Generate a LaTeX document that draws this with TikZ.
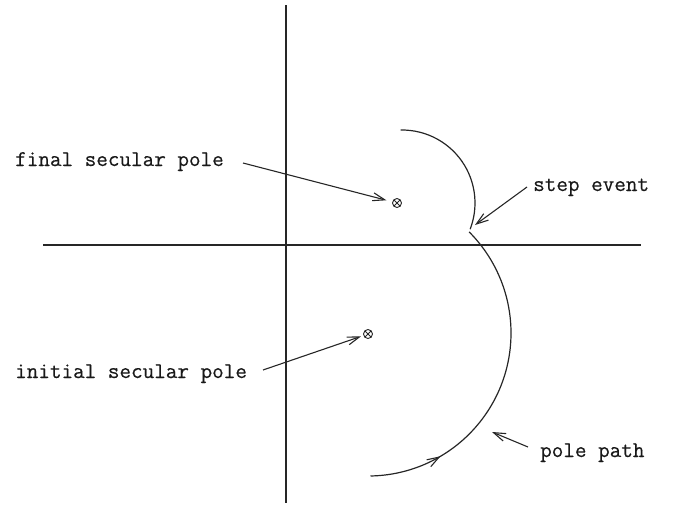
\documentclass[tikz,border=0pt]{standalone}
\usepackage{fontspec}
\newfontfamily\lbltt{Latin Modern Mono}[FakeBold=0.4]
\usetikzlibrary{arrows.meta,decorations.markings,calc}
\begin{document}
\begin{tikzpicture}[x=1pt,y=-1pt,
  ink/.style={draw=black!85},
  axisline/.style={ink,line width=1.2pt},
  curve/.style={ink,line width=1.2pt},
  pointer/.style={ink,line width=1.1pt,-{Straight Barb[length=12pt,width=8pt,line width=1.1pt]}},
  lbl/.style={font=\fontsize{22.5}{26}\selectfont\lbltt,inner sep=0pt,anchor=base west,text=black!90},
  polemark/.style={circle,ink,line width=0.9pt,minimum size=9pt,inner sep=0pt,
    path picture={\draw[black!85,line width=0.8pt]
      (path picture bounding box.south west) -- (path picture bounding box.north east)
      (path picture bounding box.north west) -- (path picture bounding box.south east);}}
]
\useasboundingbox (0,0) rectangle (675,507);
% axes
\coordinate (yt) at (286,5);
\coordinate (yb) at (286,503);
\coordinate (xl) at (43,245);
\coordinate (xr) at (641,245);
\draw[axisline] (yt) -- (yb);
\draw[axisline] (xl) -- (xr);
% poles
\node[polemark] (fp) at (397,203) {};
\node[polemark] (ip) at (368,334) {};
% arc centres
\coordinate (cu) at (402,203);
\coordinate (cl) at (368,333);
% upper arc
\draw[curve] ($(cu)+(-91:73)$) arc[start angle=-91,end angle=21,radius=73];
% lower arc (pole path), travelling from bottom upward
\draw[curve,postaction={decorate},
  decoration={markings,mark=at position 0.22 with {\arrow{Straight Barb[length=12pt,width=8pt,line width=1.1pt]}}}]
  ($(cl)+(89:143)$) arc[start angle=89,end angle=-45,radius=143];
% labels
\node[lbl] (ft) at (15,166) {final secular pole};
\node[lbl] (it) at (15,378) {initial secular pole};
\node[lbl] (st) at (533,191) {step event};
\node[lbl] (pt) at (540,457) {pole path};
% pointer coordinates
\coordinate (fa) at (243,163);
\coordinate (ia) at (263,370);
\coordinate (sa) at (527,187);
\coordinate (se) at (475,225);
\coordinate (pa) at (528,447);
\coordinate (pe) at (492,432);
\draw[pointer,shorten >=6pt] (fa) -- (fp);
\draw[pointer,shorten >=2.5pt] (ia) -- (ip);
\draw[pointer] (sa) -- (se);
\draw[pointer] (pa) -- (pe);
\end{tikzpicture}
\end{document}
